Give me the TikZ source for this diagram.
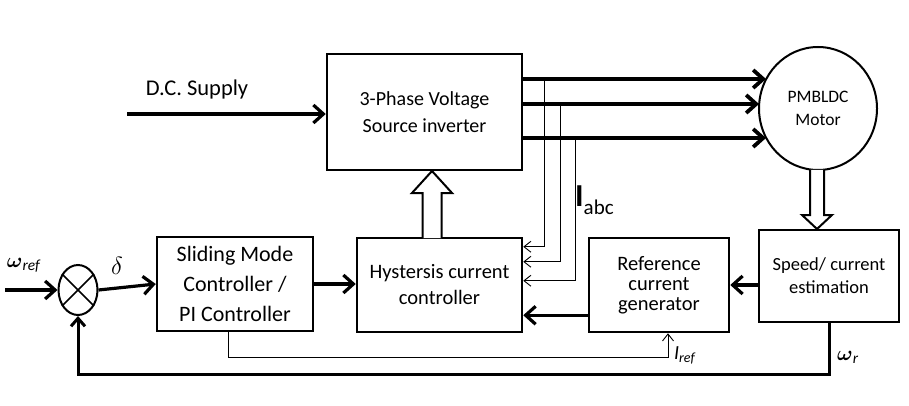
\documentclass[tikz,border=0pt]{standalone}
\usepackage{amsmath}
\usepackage{fontspec}
\setmainfont{Carlito}
\usetikzlibrary{arrows.meta,shapes.geometric,calc}
\begin{document}
\begin{tikzpicture}[x=1pt,y=-1pt,
  blk/.style={draw,line width=2.5pt,inner sep=0pt,align=center},
  thickarrow/.style={line width=3.2pt,-{Straight Barb[length=10pt,width=18pt]}},
  thinarrow/.style={line width=0.9pt,-{Straight Barb[length=7pt,width=11pt]}},
  hollow/.style={draw,line width=2pt,fill=white,line join=miter}
]
\useasboundingbox (0,0) rectangle (909,406);

% blocks
\node[blk,minimum width=195pt,minimum height=116pt,font=\fontsize{20}{27}\selectfont] (inv) at (424.5,112) {3-Phase Voltage\\Source inverter};
\node[blk,minimum width=165pt,minimum height=94pt,font=\fontsize{20.5}{26}\selectfont] (hyst) at (439.5,285) {Hystersis current\\controller};
\node[blk,minimum width=156pt,minimum height=94pt,font=\fontsize{22}{30}\selectfont] (sm) at (235,284) {Sliding Mode\\Controller /\\PI Controller};
\node[blk,minimum width=140pt,minimum height=94pt,font=\fontsize{20.5}{20}\selectfont] (ref) at (659,285) {Reference\\current\\generator};
\node[blk,minimum width=140pt,minimum height=92pt,font=\fontsize{18.5}{23}\selectfont] (spd) at (829,276) {Speed/ current\\estimation};
\node[draw,ellipse,line width=2pt,inner sep=0pt,minimum width=118pt,minimum height=123pt,align=center,font=\fontsize{17.5}{23}\selectfont] (motor) at (818,108.5) {PMBLDC\\Motor};
\node[draw,ellipse,line width=2pt,inner sep=0pt,minimum width=39pt,minimum height=50pt] (sum) at (78,290) {};
\draw[line width=1.5pt] (sum.45) -- (sum.225) (sum.135) -- (sum.315);

% D.C. supply
\coordinate (dc) at (127,114);
\draw[thickarrow] (dc) -- (inv.west |- dc);
\node[font=\fontsize{22.5}{22}\selectfont] (dcl) at (197,90) {D.C. Supply};

% three phase lines
\coordinate (m1) at (766,79);
\coordinate (m2) at (759,104);
\coordinate (m3) at (766,138);
\draw[thickarrow,line width=3.8pt] (inv.east |- m1) -- (m1);
\draw[thickarrow,line width=3.8pt] (inv.east |- m2) -- (m2);
\draw[thickarrow,line width=3.8pt] (inv.east |- m3) -- (m3);

% current taps
\coordinate (t1) at (544,79);
\coordinate (t2) at (560,104);
\coordinate (t3) at (575,138);
\draw[thinarrow] (t1) |- ($(hyst.north east)+(0,10)$);
\draw[thinarrow] (t2) |- ($(hyst.north east)+(0,25)$);
\draw[thinarrow] (t3) |- ($(hyst.north east)+(0,44)$);
\node[anchor=west,inner sep=0pt] (iabc) at (575,200) {{\bfseries\fontsize{32}{32}\selectfont I}{\fontsize{21}{21}\selectfont\raisebox{-8pt}{abc}}};

% hollow arrow hysteresis -> inverter
\coordinate (ua) at (432,238);
\draw[hollow] ($(ua)+(-9.5,0)$) -- ($(ua)+(-9.5,-45)$) -- ($(ua)+(-20,-45)$) -- ($(ua)+(0,-67)$) -- ($(ua)+(20,-45)$) -- ($(ua)+(9.5,-45)$) -- ($(ua)+(9.5,0)$);

% hollow arrow motor -> speed estimation
\coordinate (da) at (817,170);
\draw[hollow] ($(da)+(-7,0)$) -- ($(da)+(-7,45)$) -- ($(da)+(-15,45)$) -- ($(da)+(0,59)$) -- ($(da)+(15,45)$) -- ($(da)+(7,45)$) -- ($(da)+(7,0)$);

% signal arrows
\coordinate (wst) at (5,290);
\draw[thickarrow] (wst) -- (sum.west);
\node[font=\fontsize{22}{22}\selectfont] (wrefl) at (24,265) {$\boldsymbol{\omega}$\textsubscript{\textit{ref}}};
\draw[thickarrow] (sum.east) -- (sm.west);
\node[font=\fontsize{26}{26}\selectfont] (deltal) at (117,266) {$\delta$};
\draw[thickarrow] (sm.east) -- (hyst.west |- sm.east);
\draw[thickarrow] (spd.west |- ref.east) -- (ref.east);
\draw[thickarrow] ($(ref.south west)+(0,-18)$) -- ($(hyst.south east)+(0,-18)$);

% speed feedback
\draw[line width=3pt,-{Straight Barb[length=8pt,width=14pt]}] (spd.south) -- ++(0,51) -| (sum.south);
\node[font=\fontsize{22}{22}\selectfont] (wrl) at (848,357) {$\boldsymbol{\omega}$\textsubscript{\textit{r}}};

% I_ref
\draw[thinarrow] ($(sm.south)+(-7,0)$) -- ++(0,25) -| ($(ref.south)+(9,0)$);
\node[font=\fontsize{20}{20}\selectfont] (irefl) at (685,355) {\textit{I}\textsubscript{\textit{ref}}};
\end{tikzpicture}
\end{document}
